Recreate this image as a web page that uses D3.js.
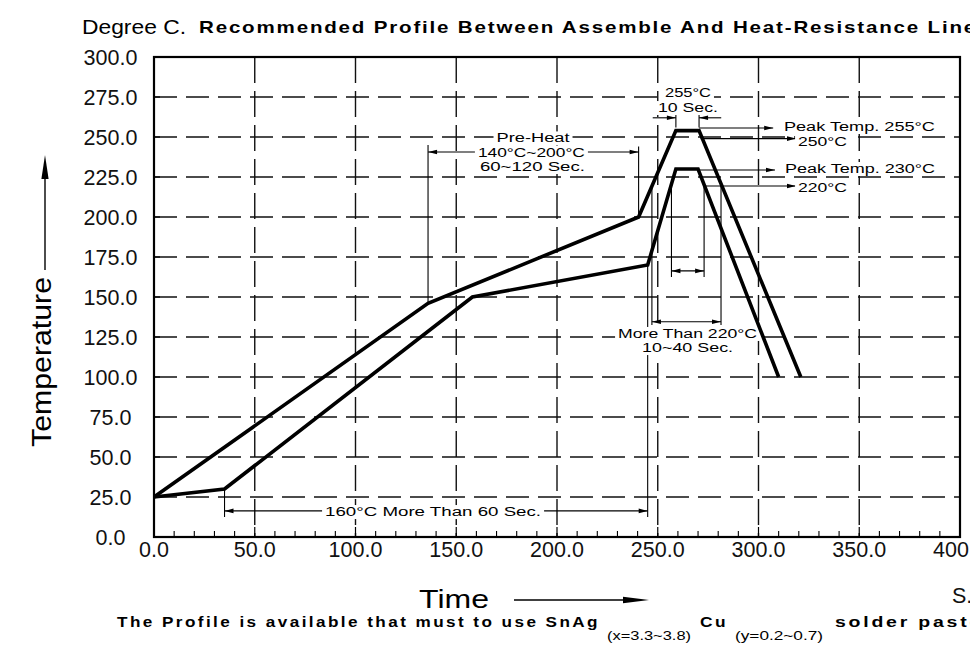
<!DOCTYPE html>
<html><head><meta charset="utf-8">
<script src="https://cdn.jsdelivr.net/npm/d3@7"></script>
<style>body{margin:0;background:#fff} svg{display:block}</style>
</head><body>
<svg id="c" width="970" height="652"></svg>
<script>
// ---------- data ----------
const yTickValues = [0,25,50,75,100,125,150,175,200,225,250,275,300];
const xTickValues = [0,50,100,150,200,250,300,350,400];
const xMinorValues = [10,20,30,40,60,70,80,90,110,120,130,140,160,170,180,190,210,220,230,240,260,270,280,290,310,320,330,340,360,370,380,390];
// Assemble line (peak 230 °C)
const assembleLine = [[0,25],[35,30],[158,150],[245,170],[259,230],[270,230],[310,100]];
// Heat-resistance line (peak 255 °C)
const heatResistLine = [[0,25],[136,146],[240.5,200],[259,254],[270.5,254],[321,100]];

// extension lines [t1,T1,t2,T2] (data units)
const extLines = [
  [136,146,136,245],
  [240.5,200,240.5,244],
  [259,256,259,265],
  [270.5,256,270.5,264],
  [247.1,220,247.1,132.5],
  [281.4,220,281.4,132.5],
  [256.8,220,256.8,162.5],
  [273,220,273,162.5],
  [35,30,35,12.5],
  [245,170,245,12.5]
];
// dimension / leader lines [t1,T1,t2,T2, arrowAtStart, arrowAtEnd]
const dimLines = [
  [136,240.6,240.5,240.6,1,1],
  [247.5,262,259,262,0,1],
  [281.5,262,270.5,262,0,1],
  [270.5,255.6,307.3,255.6,0,1],
  [271.3,249,318.6,249,0,1],
  [270,229.4,308.2,229.4,0,1],
  [273,219.4,318.6,219.4,0,1],
  [247.1,134.5,281.4,134.5,1,1],
  [256.8,166.3,273,166.3,1,1],
  [35,16.3,245,16.3,1,1]
];
// annotation texts [centre t, baseline T, text, pixel width]
const notes = [
  [265,275,"255°C",46],
  [265,265.6,"10  Sec.",60],
  [188.1,246.6,"Pre-Heat",73],
  [187.3,237.5,"140°C~200°C",107],
  [187.8,228.75,"60~120  Sec.",105],
  [350.1,253.75,"Peak  Temp.  255°C",151],
  [331.8,244.4,"250°C",49],
  [350.4,227.5,"Peak  Temp.  230°C",150],
  [331.8,215.6,"220°C",49],
  [264.8,124.4,"More  Than  220°C",139],
  [264.8,115.6,"10~40  Sec.",91],
  [138.5,13.1,"160°C  More  Than  60  Sec.",216]
];

// ---------- drawing ----------
const svg = d3.select("#c");
const x = d3.scaleLinear().domain([0,400]).range([154,960]);
const y = d3.scaleLinear().domain([0,300]).range([537,57]);
const font = "'Liberation Sans', Arial, sans-serif";

// grid
const g = svg.append("g");
g.selectAll("line.h").data(yTickValues.filter(v=>v>0&&v<300)).enter().append("line")
  .attr("x1",x(0)).attr("x2",x(400)).attr("y1",d=>y(d)).attr("y2",d=>y(d))
  .attr("stroke","#111").attr("stroke-width",1.4).attr("stroke-dasharray","23,9");
g.selectAll("line.v").data(xTickValues.filter(v=>v>0&&v<400)).enter().append("line")
  .attr("x1",d=>x(d)).attr("x2",d=>x(d)).attr("y1",y(300)).attr("y2",y(0))
  .attr("stroke","#111").attr("stroke-width",1.4).attr("stroke-dasharray","26,8");

// extension lines
const a = svg.append("g").attr("stroke","#000").attr("stroke-width",1.1);
a.selectAll("line.e").data(extLines).enter().append("line")
  .attr("x1",d=>x(d[0])).attr("y1",d=>y(d[1])).attr("x2",d=>x(d[2])).attr("y2",d=>y(d[3]));
a.selectAll("line.d").data(dimLines).enter().append("line")
  .attr("x1",d=>x(d[0])).attr("y1",d=>y(d[1])).attr("x2",d=>x(d[2])).attr("y2",d=>y(d[3]));

function arrowHead(sel, tx, ty, dx, dy, len, hw){
  const n = Math.hypot(dx,dy); const ux=dx/n, uy=dy/n;
  const bx = tx-ux*len, by = ty-uy*len;
  sel.append("polygon").attr("points",
    `${tx},${ty} ${bx-uy*hw},${by+ux*hw} ${bx+uy*hw},${by-ux*hw}`).attr("fill","#000");
}
dimLines.forEach(d=>{
  const x1=x(d[0]),y1=y(d[1]),x2=x(d[2]),y2=y(d[3]);
  if(d[4]) arrowHead(svg,x1,y1,x1-x2,y1-y2,9,2.3);
  if(d[5]) arrowHead(svg,x2,y2,x2-x1,y2-y1,9,2.3);
});

// annotation texts with white background
const tg = svg.append("g");
notes.forEach(n=>{
  const cx = x(n[0]), by = y(n[1]);
  tg.append("rect").attr("x",cx-n[3]/2-3).attr("y",by-11).attr("width",n[3]+6).attr("height",14).attr("fill","#fff");
  tg.append("text").attr("x",cx-n[3]/2).attr("y",by).text(n[2])
    .attr("font-family",font).attr("font-size",12.5).attr("fill","#000")
    .attr("textLength",n[3]).attr("lengthAdjust","spacingAndGlyphs");
});

// curves
const line = d3.line().x(d=>x(d[0])).y(d=>y(d[1]));
[assembleLine, heatResistLine].forEach(s=>{
  svg.append("path").attr("d",line(s)).attr("fill","none").attr("stroke","#000")
    .attr("stroke-width",3.6).attr("stroke-linejoin","miter");
});

// frame
svg.append("rect").attr("x",x(0)).attr("y",y(300)).attr("width",x(400)-x(0)).attr("height",y(0)-y(300))
  .attr("fill","none").attr("stroke","#000").attr("stroke-width",2.2);

// ticks
svg.selectAll("line.xm").data(xMinorValues).enter().append("line")
  .attr("x1",d=>x(d)).attr("x2",d=>x(d)).attr("y1",y(0)).attr("y2",y(0)-6)
  .attr("stroke","#000").attr("stroke-width",1.1);
svg.selectAll("line.xM").data(xTickValues).enter().append("line")
  .attr("x1",d=>x(d)).attr("x2",d=>x(d)).attr("y1",y(0)).attr("y2",y(0)-10)
  .attr("stroke","#000").attr("stroke-width",1.2);
svg.selectAll("line.yt").data(yTickValues).enter().append("line")
  .attr("x1",x(0)).attr("x2",x(0)+6).attr("y1",d=>y(d)).attr("y2",d=>y(d))
  .attr("stroke","#000").attr("stroke-width",1.2);

// tick labels
svg.selectAll("text.yl").data(yTickValues).enter().append("text")
  .attr("x",110.5).attr("y",d=>y(d)+7.5).attr("text-anchor","middle")
  .attr("font-family",font).attr("font-size",21.5).attr("fill","#111")
  .text(d=>d.toFixed(1));
svg.selectAll("text.xl").data(xTickValues).enter().append("text")
  .attr("x",d=>x(d)).attr("y",557).attr("text-anchor","middle")
  .attr("font-family",font).attr("font-size",21.5).attr("fill","#111")
  .text(d=>d.toFixed(1));

// helper: letter-spaced text stretched to a width
function spaced(sel, px, py, str, size, weight, ls, width){
  return sel.append("text").attr("x",px).attr("y",py).text(str)
    .attr("font-family",font).attr("font-size",size).attr("font-weight",weight)
    .attr("letter-spacing",ls).attr("textLength",width).attr("lengthAdjust","spacingAndGlyphs");
}

// titles
svg.append("text").attr("x",82).attr("y",34).text("Degree C.")
  .attr("font-family",font).attr("font-size",20).attr("textLength",104).attr("lengthAdjust","spacingAndGlyphs");
spaced(svg,199,33,"Recommended Profile Between Assemble And Heat-Resistance Line",17,"bold",1.5,778);

// axis titles
svg.append("text").attr("x",419).attr("y",608).text("Time")
  .attr("font-family",font).attr("font-size",25).attr("textLength",70).attr("lengthAdjust","spacingAndGlyphs");
svg.append("line").attr("x1",514).attr("x2",630).attr("y1",600).attr("y2",600).attr("stroke","#000").attr("stroke-width",1.4);
arrowHead(svg,649,600,1,0,26,3.2);
svg.append("text").attr("transform","translate(51,362) rotate(-90)").attr("text-anchor","middle").text("Temperature")
  .attr("font-family",font).attr("font-size",28).attr("textLength",170).attr("lengthAdjust","spacingAndGlyphs");
svg.append("line").attr("x1",45).attr("x2",45).attr("y1",270).attr("y2",175).attr("stroke","#000").attr("stroke-width",1.4);
arrowHead(svg,45,155,0,-1,24,3.6);
svg.append("text").attr("x",952).attr("y",603).text("S.")
  .attr("font-family",font).attr("font-size",21.5).attr("fill","#111");

// bottom note
const bf = svg.append("g").attr("fill","#000");
spaced(bf,117,627,"The Profile is available that must to use SnAg",15.5,"bold",2.2,483);
spaced(bf,607,640,"(x=3.3~3.8)",12,"normal",0,84);
spaced(bf,700,627,"Cu",15.5,"bold",2.2,28);
spaced(bf,735,640,"(y=0.2~0.7)",12,"normal",0,88);
spaced(bf,835,627,"solder paste",15.5,"bold",2.2,148);
</script>
</body></html>
